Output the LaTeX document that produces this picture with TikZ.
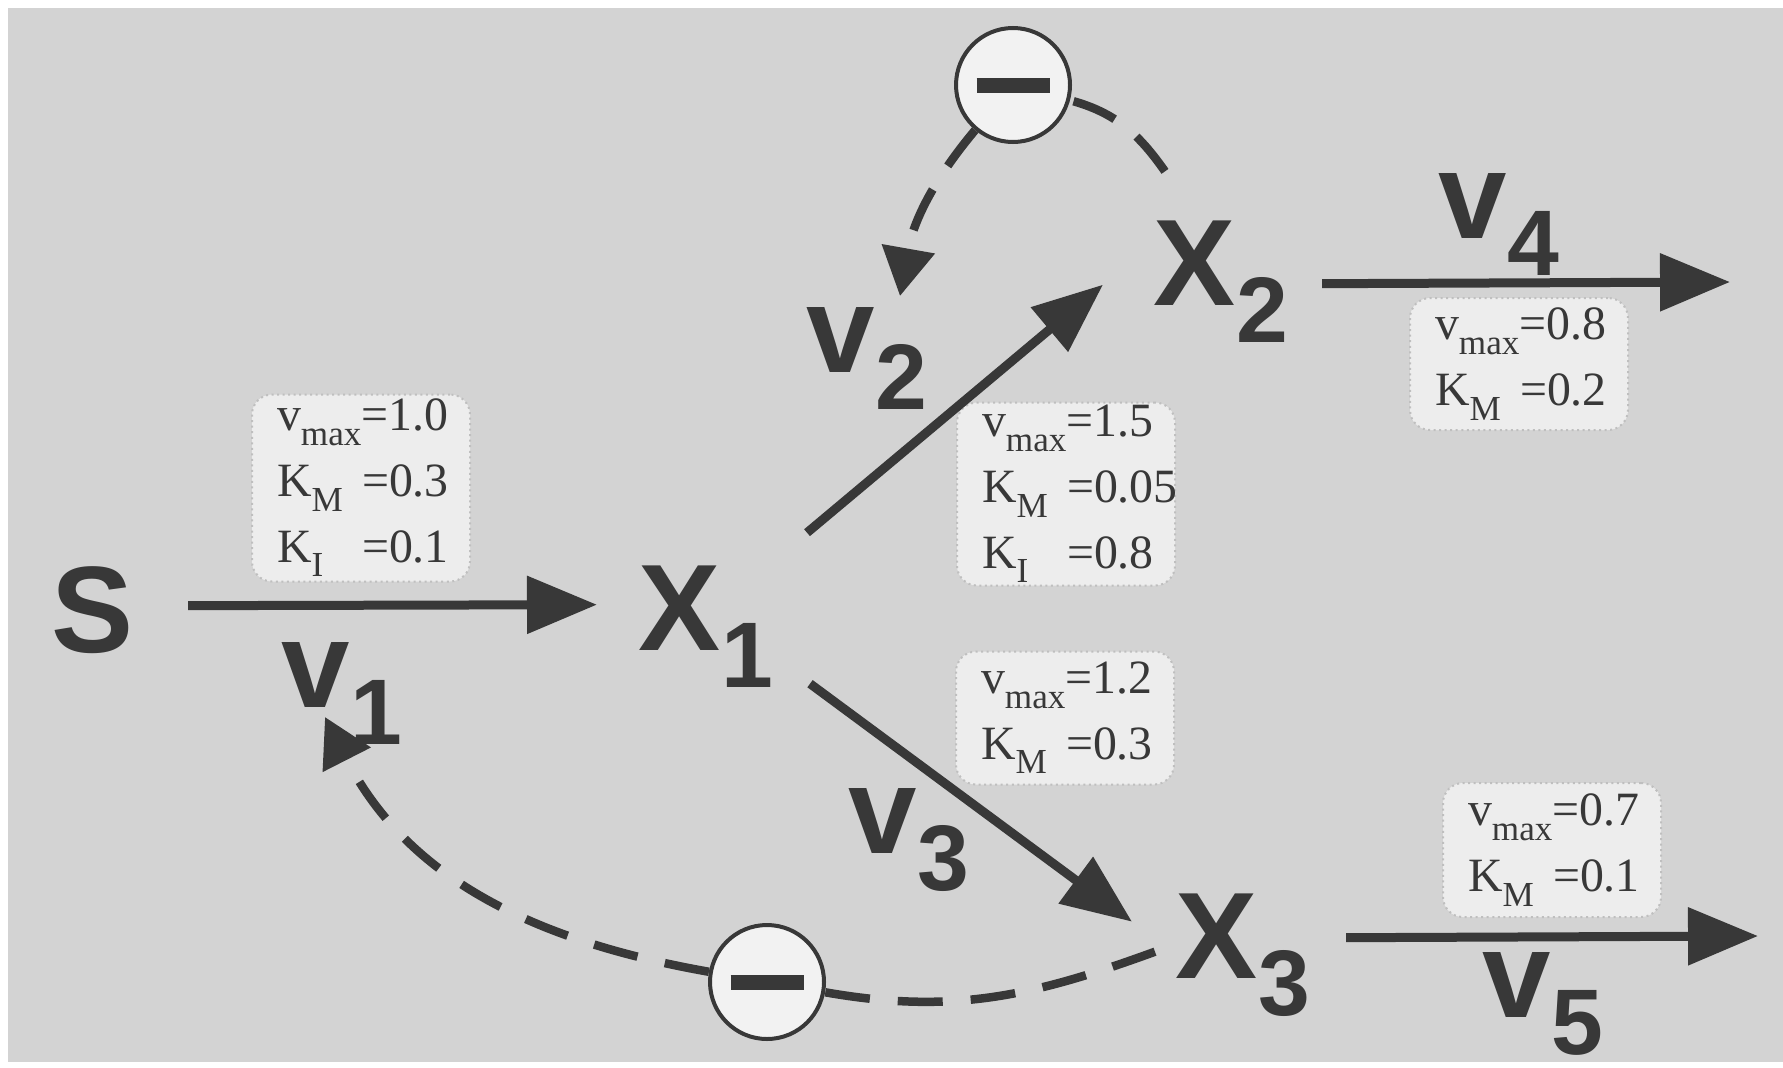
\documentclass[tikz,border=0pt]{standalone}
\usepackage{fontspec}
\setmainfont{Liberation Serif}
\newfontfamily\labelsans{Liberation Sans}
\usetikzlibrary{arrows.meta,calc}
\definecolor{ink}{HTML}{383838}
\definecolor{scan}{HTML}{D3D3D3}
\definecolor{boxfill}{HTML}{EDEDED}
\definecolor{circfill}{HTML}{F2F2F2}
\newcommand{\spsub}[1]{\rlap{\raisebox{-3.7mm}[0pt][0pt]{\fontsize{26.5}{30}\selectfont #1}}}
\newcommand{\parsub}[1]{\raisebox{-1.45mm}{\fontsize{10}{12}\selectfont #1}}
\newcommand{\parlbl}[2]{\makebox[24.2pt][l]{#1\parsub{#2}}}

\tikzstyle{species} = [inner sep=0, outer sep=0, text=ink, font=\labelsans\bfseries\fontsize{35}{40}\selectfont]
\tikzstyle{param} = [rounded corners=2mm, fill=boxfill, draw=black!25, densely dotted, line width=0.2mm, text width=16.8mm, inner xsep=2.5mm, inner ysep=0, align=left, text=ink, font=\fontsize{13.6}{18.7}\selectfont]
\tikzstyle{inhnode} = [circle, draw=ink, line width=0.4mm, fill=circfill, minimum size=11.4mm, inner sep=0, text=ink]
\tikzstyle{flux} = [draw=ink, line width=0.9mm, -{Triangle[length=7mm,width=5.6mm]}]
\tikzstyle{inhib} = [draw=ink, line width=0.85mm, dash pattern=on 4.5mm off 2.8mm]
\tikzstyle{inhtip} = [-{Triangle[length=4.8mm,width=5.2mm]}]

\begin{document}
\begin{tikzpicture}[x=0.1mm,y=-0.1mm]
\useasboundingbox[fill=white] (0,0) rectangle (1783,1067);
\fill[scan] (8,8) rectangle (1783,1062);

\node[species,anchor=base] (S) at (93,652) {S};
\node[species,anchor=base] (X1) at (680,650) {X\spsub{1}};
\node[species,anchor=base] (X2) at (1195,305) {X\spsub{2}};
\node[species,anchor=base] (X3) at (1217,978) {X\spsub{3}};

\node[species,anchor=base] (v1) at (316,707) {v\spsub{1}};
\node[species,anchor=base] (v2) at (841,372) {v\spsub{2}};
\node[species,anchor=base] (v3) at (883,853) {v\spsub{3}};
\node[species,anchor=base] (v4) at (1473,238) {v\spsub{4}};
\node[species,anchor=base] (v5) at (1517,1017) {v\spsub{5}};

\node[param,minimum height=18.7mm] (k1) at (361,488) {v\parsub{max}=1.0\\\parlbl{K}{M}=0.3\\\parlbl{K}{I}=0.1};
\node[param,minimum height=18.3mm] (k2) at (1066,494) {v\parsub{max}=1.5\\\parlbl{K}{M}=0.05\\\parlbl{K}{I}=0.8};
\node[param,minimum height=13.3mm] (k3) at (1065,718) {v\parsub{max}=1.2\\\parlbl{K}{M}=0.3};
\node[param,minimum height=13.2mm] (k4) at (1519,364) {v\parsub{max}=0.8\\\parlbl{K}{M}=0.2};
\node[param,minimum height=13.4mm] (k5) at (1552,850) {v\parsub{max}=0.7\\\parlbl{K}{M}=0.1};

\node[inhnode] (inhtop) at (1013,85) {\rule{7.3mm}{1.5mm}};
\node[inhnode] (inhbot) at (767,982) {\rule{7.3mm}{1.5mm}};
\coordinate (x2out) at (1730,282);
\coordinate (x3out) at (1758,936);

\draw[flux] ($(S.east)+(54,-4)$) -- ($(X1.west)+(-42,-3)$);
\draw[flux] ($(X1.east)+(86,-75)$) -- ($(X2.west)+(-51,22)$);
\draw[flux] ($(X1.east)+(89,76)$) -- ($(X3.west)+(-44,-14)$);
\draw[flux] ($(X2.east)+(86,21)$) -- (x2out);
\draw[flux] ($(X3.east)+(88,2)$) -- (x3out);

\draw[inhib] ($(X2.north west)+(11,-49)$) to[out=125,in=-15] (inhtop);
\draw[inhib,inhtip] (inhtop) to[out=230,in=80] ($(v2.north)+(59,-11)$);
\draw[inhib] ($(X3.west)+(-21,16)$) to[out=200,in=-10] (inhbot);
\draw[inhib,inhtip] (inhbot) to[out=170,in=-63] ($(v1.base)+(9,10)$);
\end{tikzpicture}
\end{document}
